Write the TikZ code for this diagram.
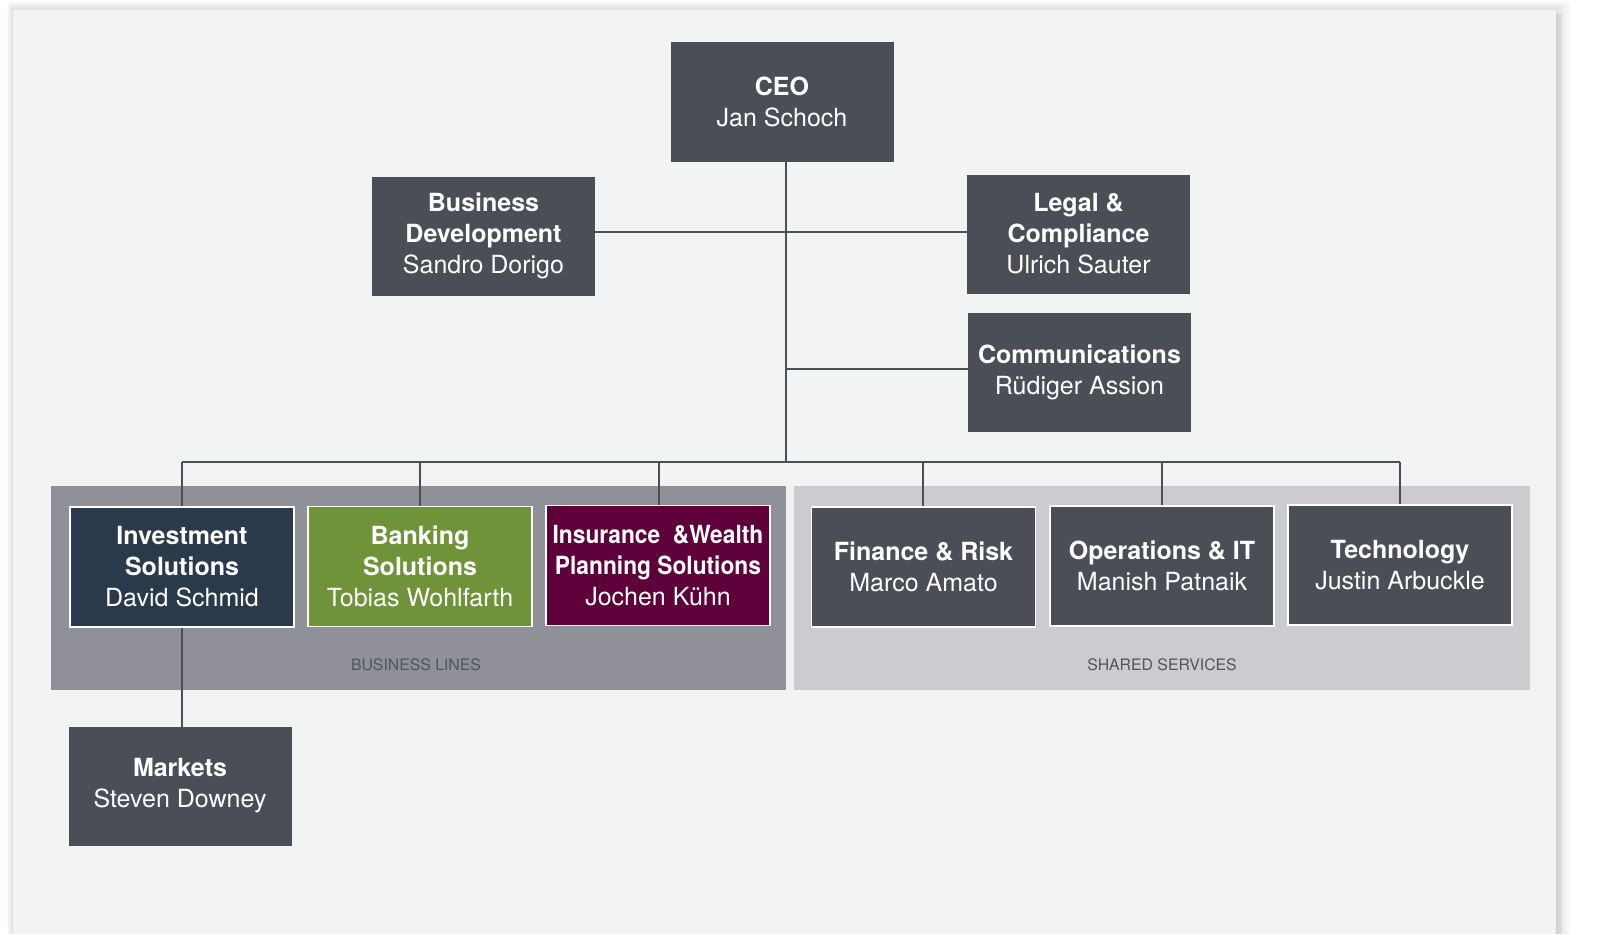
\documentclass[tikz,border=0pt]{standalone}
\usepackage{fontspec}
\setmainfont{TeX Gyre Heros}
\newfontfamily\condbold[FakeStretch=0.91]{TeX Gyre Heros Bold}
\definecolor{panel}{HTML}{F2F4F4}
\definecolor{slate}{HTML}{4A4F57}
\definecolor{invest}{HTML}{2A3A4B}
\definecolor{bank}{HTML}{6F9339}
\definecolor{insur}{HTML}{5E0039}
\definecolor{bandL}{HTML}{909098}
\definecolor{bandR}{HTML}{CBCBD0}
\definecolor{bandtxt}{HTML}{50555E}
\tikzset{
  orgbox/.style={fill=slate, text=white, minimum width=223pt, minimum height=119pt,
    inner sep=0pt, align=center, font=\fontsize{25}{31}\selectfont},
  unitbox/.style={orgbox, draw=white, line width=1.5pt, minimum width=224pt, minimum height=120pt},
  conn/.style={draw=slate, line width=1.5pt},
  bandlabel/.style={text=bandtxt, font=\fontsize{15.8}{18}\selectfont}
}
\begin{document}
\begin{tikzpicture}[x=1pt,y=-1pt]
\useasboundingbox (0,0) rectangle (1611,934);
\fill[white] (0,0) rectangle (1611,934);
% soft shadow
\foreach \i in {1,...,10}{
  \fill[black, opacity=0.012] (13-\i*0.6,10-\i*0.9) rectangle (1556+\i*1.5,934);
}
\fill[black, opacity=0.06] (1556,14) rectangle (1562,934);
\fill[panel] (13,10) rectangle (1556,934);
% bands
\fill[bandL] (51,486) rectangle (786,690);
\fill[bandR] (794,486) rectangle (1530,690);
\node[bandlabel] (bl) at (416,665) {BUSINESS LINES};
\node[bandlabel] (ss) at (1162,665) {SHARED SERVICES};
% coordinates of the tree
\coordinate (top) at (786,161);
\coordinate (j1) at (786,232);
\coordinate (j2) at (786,369);
\coordinate (j3) at (786,462);
\coordinate (h1) at (182,462);
\coordinate (h2) at (420,462);
\coordinate (h3) at (659,462);
\coordinate (h4) at (923,462);
\coordinate (h5) at (1162,462);
\coordinate (h6) at (1400,462);
\coordinate (d1) at (182,510);
\coordinate (d2) at (420,510);
\coordinate (d3) at (659,510);
\coordinate (d4) at (923,510);
\coordinate (d5) at (1162,510);
\coordinate (d6) at (1400,510);
% upper nodes
\node[orgbox] (ceo) at (782,102) {\textbf{CEO}\\Jan Schoch};
\node[orgbox] (bd) at (483.5,236) {\textbf{Business}\\\textbf{Development}\\Sandro Dorigo};
\node[orgbox] (lc) at (1078.5,234) {\textbf{Legal \&}\\\textbf{Compliance}\\Ulrich Sauter};
\node[orgbox] (com) at (1079.5,372) {\textbf{Communications}\\Rüdiger Assion};
% connectors
\draw[conn] (ceo.south -| top) -- (j3);
\draw[conn] (bd.east |- j1) -- (lc.west |- j1);
\draw[conn] (j2) -- (com.west |- j2);
\draw[conn] (h1) -- (h6);
\foreach \k in {1,...,6}{\draw[conn] (h\k) -- (d\k);}
\draw[conn] (182,620) -- (182,730);
% unit boxes
\node[unitbox, fill=invest] (inv) at (182,567) {\textbf{Investment}\\\textbf{Solutions}\\David Schmid};
\node[unitbox, fill=bank] (bank) at (420,566.5) {\textbf{Banking}\\\textbf{Solutions}\\Tobias Wohlfarth};
\node[unitbox, fill=insur] (ins) at (658,565.5) {{\condbold Insurance \ \&Wealth}\\{\condbold Planning Solutions}\\Jochen Kühn};
\node[unitbox] (fin) at (923.5,567) {\textbf{Finance \& Risk}\\Marco Amato};
\node[unitbox] (ops) at (1162,566) {\textbf{Operations \& IT}\\Manish Patnaik};
\node[unitbox] (tech) at (1400,565) {\textbf{Technology}\\Justin Arbuckle};
\node[orgbox] (mkt) at (180,786) {\textbf{Markets}\\Steven Downey};
\end{tikzpicture}
\end{document}
